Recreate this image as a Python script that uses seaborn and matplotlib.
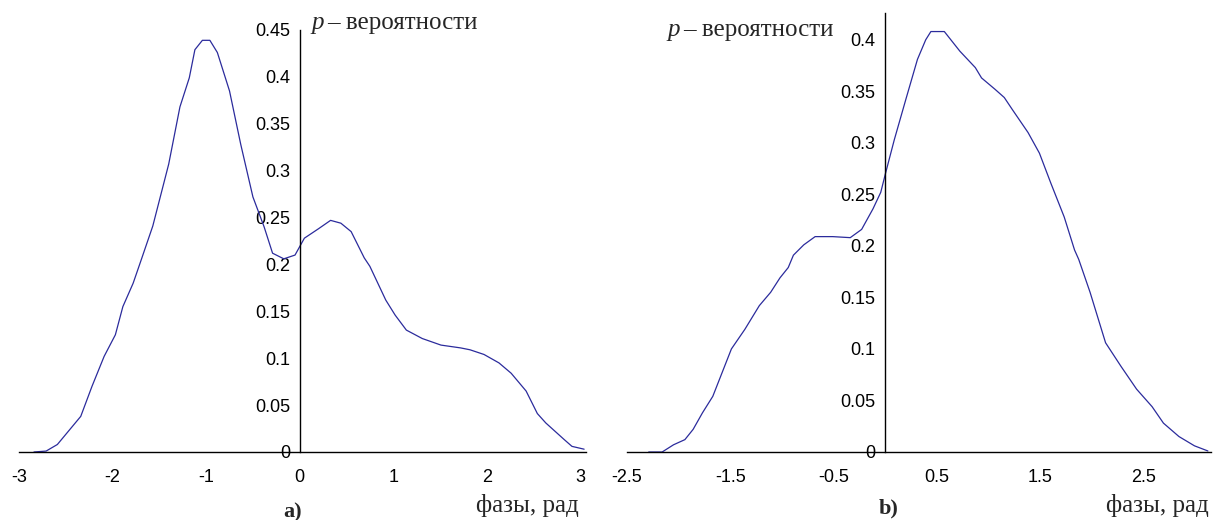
import numpy as np
import pandas as pd
import matplotlib
matplotlib.use("Agg")
import matplotlib.pyplot as plt
import seaborn as sns

# ---- data ----
phase_a = [-2.84, -2.71, -2.59, -2.34, -2.22, -2.09, -1.97, -1.89, -1.78, -1.69, -1.57, -1.40,
           -1.28, -1.18, -1.12, -1.04, -0.96, -0.88, -0.75, -0.63, -0.50, -0.38, -0.29, -0.17,
           -0.05, 0.05, 0.20, 0.33, 0.44, 0.55, 0.69, 0.75, 0.92, 1.02, 1.14, 1.31, 1.51, 1.72,
           1.82, 1.97, 2.13, 2.26, 2.42, 2.54, 2.63, 2.83, 2.91, 3.04]
prob_a = [0.0, 0.001, 0.008, 0.038, 0.070, 0.102, 0.125, 0.155, 0.180, 0.206, 0.241, 0.307,
          0.368, 0.399, 0.429, 0.439, 0.439, 0.426, 0.385, 0.328, 0.272, 0.240, 0.212, 0.206,
          0.210, 0.228, 0.238, 0.247, 0.244, 0.235, 0.207, 0.198, 0.162, 0.146, 0.130, 0.121,
          0.114, 0.111, 0.109, 0.104, 0.095, 0.084, 0.065, 0.041, 0.031, 0.013, 0.006, 0.003]

phase_b = [-2.29, -2.16, -2.05, -1.94, -1.86, -1.77, -1.67, -1.58, -1.49, -1.36, -1.22, -1.11,
           -1.02, -0.94, -0.89, -0.79, -0.68, -0.51, -0.34, -0.23, -0.12, -0.045, 0.0, 0.086,
           0.20, 0.31, 0.39, 0.44, 0.57, 0.72, 0.87, 0.93, 1.06, 1.15, 1.23, 1.38, 1.49, 1.60,
           1.73, 1.83, 1.87, 1.98, 2.13, 2.28, 2.43, 2.58, 2.69, 2.84, 2.99, 3.12]
prob_b = [0.0, 0.0, 0.007, 0.012, 0.022, 0.038, 0.054, 0.077, 0.100, 0.119, 0.142, 0.155,
          0.169, 0.179, 0.191, 0.201, 0.209, 0.209, 0.208, 0.216, 0.236, 0.252, 0.270, 0.303,
          0.343, 0.381, 0.400, 0.408, 0.408, 0.389, 0.373, 0.363, 0.352, 0.344, 0.332, 0.310,
          0.290, 0.261, 0.228, 0.196, 0.187, 0.155, 0.106, 0.083, 0.061, 0.044, 0.028, 0.015,
          0.006, 0.001]

xticks_a = [-3, -2, -1, 0, 1, 2, 3]
xticklabels_a = ["-3", "-2", "-1", "0", "1", "2", "3"]
yticks_a = [0, 0.05, 0.1, 0.15, 0.2, 0.25, 0.3, 0.35, 0.4, 0.45]
yticklabels_a = ["0", "0.05", "0.1", "0.15", "0.2", "0.25", "0.3", "0.35", "0.4", "0.45"]

xticks_b = [-2.5, -1.5, -0.5, 0.5, 1.5, 2.5]
xticklabels_b = ["-2.5", "-1.5", "-0.5", "0.5", "1.5", "2.5"]
yticks_b = [0, 0.05, 0.1, 0.15, 0.2, 0.25, 0.3, 0.35, 0.4]
yticklabels_b = ["0", "0.05", "0.1", "0.15", "0.2", "0.25", "0.3", "0.35", "0.4"]

ylabel_txt = "вероятности"
xlabel_txt = "фазы, рад"

# ---- style ----
sns.set_style("white")
plt.rcParams["font.family"] = ["Liberation Sans Narrow", "Liberation Sans", "DejaVu Sans"]

LINE = "#2b2b9c"
W, H = 1213, 520
fig = plt.figure(figsize=(W / 100, H / 100), dpi=100)

def px_axes(l, t, r, b):
    return fig.add_axes([l / W, 1 - b / H, (r - l) / W, (b - t) / H])

ax_a = px_axes(19, 30, 586, 452)
ax_b = px_axes(627, 13, 1211, 452)

panels = [
    (ax_a, phase_a, prob_a, (-3, 3.06), (0, 0.45), xticks_a, xticklabels_a, yticks_a, yticklabels_a),
    (ax_b, phase_b, prob_b, (-2.5, 3.15), (0, 0.426), xticks_b, xticklabels_b, yticks_b, yticklabels_b),
]

for ax, xs, ys, xl, yl, xt, xtl, yt, ytl in panels:
    df = pd.DataFrame({"phase": xs, "p": ys})
    sns.lineplot(data=df, x="phase", y="p", ax=ax, color=LINE, linewidth=0.9)
    ax.set_xlim(*xl)
    ax.set_ylim(*yl)
    ax.spines["top"].set_visible(False)
    ax.spines["right"].set_visible(False)
    ax.spines["left"].set_position(("data", 0))
    for s in ("left", "bottom"):
        ax.spines[s].set_color("black")
        ax.spines[s].set_linewidth(1.0)
    ax.set_xticks(xt)
    ax.set_xticklabels(xtl)
    ax.set_yticks(yt)
    ax.set_yticklabels(ytl)
    ax.tick_params(axis="x", direction="out", length=5, width=1, pad=7, labelsize=13, colors="black")
    ax.tick_params(axis="y", direction="out", length=5, width=1, pad=2, labelsize=13, colors="black")
    ax.set_xlabel("")
    ax.set_ylabel("")
    ax.patch.set_alpha(0)

serif = ["Liberation Serif", "DejaVu Serif"]

# y-axis captions
fig.text(311 / W, 1 - 29 / H, "p", fontsize=18, style="italic", family=serif, va="baseline", ha="left")
fig.text(327 / W, 1 - 29 / H, "– " + ylabel_txt, fontsize=18, family=serif, va="baseline", ha="left")
fig.text(667 / W, 1 - 36 / H, "p", fontsize=18, style="italic", family=serif, va="baseline", ha="left")
fig.text(683 / W, 1 - 36 / H, "– " + ylabel_txt, fontsize=18, family=serif, va="baseline", ha="left")

# x-axis captions
fig.text(579 / W, 1 - 512 / H, xlabel_txt, fontsize=18, family=serif, va="baseline", ha="right")
fig.text(1209 / W, 1 - 512 / H, xlabel_txt, fontsize=18, family=serif, va="baseline", ha="right")

# panel labels
fig.text(293 / W, 1 - 517 / H, "a)", fontsize=16, weight="bold", family=serif, va="baseline", ha="center")
fig.text(889 / W, 1 - 513 / H, "b)", fontsize=16, weight="bold", family=serif, va="baseline", ha="center")

fig.savefig("out.png", dpi=100, facecolor="white")
